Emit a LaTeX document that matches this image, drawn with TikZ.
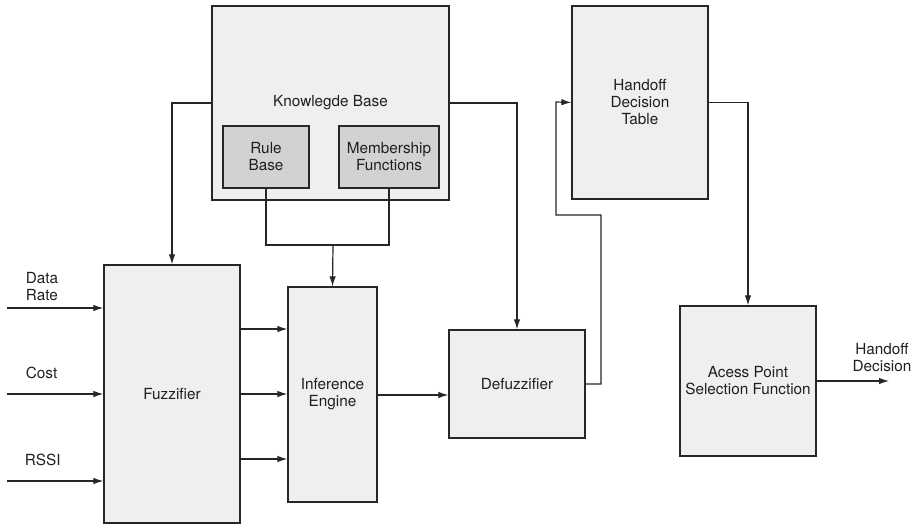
\documentclass[tikz,border=0pt]{standalone}
\usepackage{fontspec}
\setmainfont{TeX Gyre Heros}
\usepackage{tikz}
\usetikzlibrary{positioning,arrows.meta}
\definecolor{boxgray}{HTML}{EFEFEF}
\definecolor{innergray}{HTML}{D2D2D2}
\definecolor{linegray}{HTML}{262626}
\tikzset{
x=1pt, y=-1pt, % one unit is one pixel of the figure
block/.style={draw=linegray, line width=1.3pt, fill=boxgray, align=center, inner sep=0pt}, % the big boxes
subblock/.style={block, fill=innergray}, % boxes inside the knowledge base
arr/.style={-{Latex[length=10pt,width=6.5pt]}}, % arrow connectors
every node/.style={font=\fontsize{15.3}{17}\selectfont, text=black!88},
}
\begin{document}
\begin{tikzpicture}[line width=1.2pt, draw=linegray]
\useasboundingbox (0,0) rectangle (916,527);
\node[block, minimum width=136pt, minimum height=258pt] at (172,394) (fuzz) {Fuzzifier};
\node[block, minimum width=89pt, minimum height=215pt] at (332.5,394.5) (inf) {Inference\\Engine};
\node[block, minimum width=136pt, minimum height=108pt] at (517,384) (defuzz) {Defuzzifier};
\node[block, minimum width=237pt, minimum height=194pt] at (330.5,103) (kb) {Knowlegde Base};
\node[subblock, minimum width=86pt, minimum height=62pt] at (266,157) (rule) {Rule\\Base};
\node[subblock, minimum width=100pt, minimum height=62pt] at (389,157) (memb) {Membership\\Functions};
\node[block, minimum width=136pt, minimum height=193pt] at (640,102.5) (hdt) {Handoff\\Decision\\Table};
\node[block, minimum width=136pt, minimum height=150pt] at (748,381) (apsf) {Acess Point\\Selection Function};
\node[anchor=west, align=left] at (22,287) (rate) {Data\\Rate};
\node[anchor=west] at (22,373) (cost) {Cost};
\node[anchor=west] at (21,460) (rssi) {RSSI};
\node[align=center] at (882,358) (dec) {Handoff\\Decision};
\coordinate (in1) at (7,308);
\coordinate (in2) at (7,394);
\coordinate (in3) at (7,481);
\coordinate (join) at (333,245);
\coordinate (back) at (601,215);
\coordinate (out) at (889,381);
\draw[arr] (in1) -- (in1 -| fuzz.west);
\draw[arr] (in2) -- (in2 -| fuzz.west);
\draw[arr] (in3) -- (in3 -| fuzz.west);
\draw[arr] (fuzz.east |- 0,329) -- (inf.west |- 0,329);
\draw[arr] (fuzz.east |- 0,394) -- (inf.west |- 0,394);
\draw[arr] (fuzz.east |- 0,459) -- (inf.west |- 0,459);
\draw[arr] (kb.west) -| (fuzz.north);
\draw[arr] (kb.east) -| (defuzz.north);
\draw (rule.south) |- (memb.south |- join) -- (memb.south);
\draw[arr] (join) -- (inf.north);
\draw[arr] (inf.east |- 0,395) -- (defuzz.west |- 0,395);
\draw[arr] (defuzz.east) -| (back) -| (556,102) -- (hdt.west);
\draw[arr] (hdt.east) -| (apsf.north);
\draw[arr] (apsf.east) -- (out);
\end{tikzpicture}
\end{document}
